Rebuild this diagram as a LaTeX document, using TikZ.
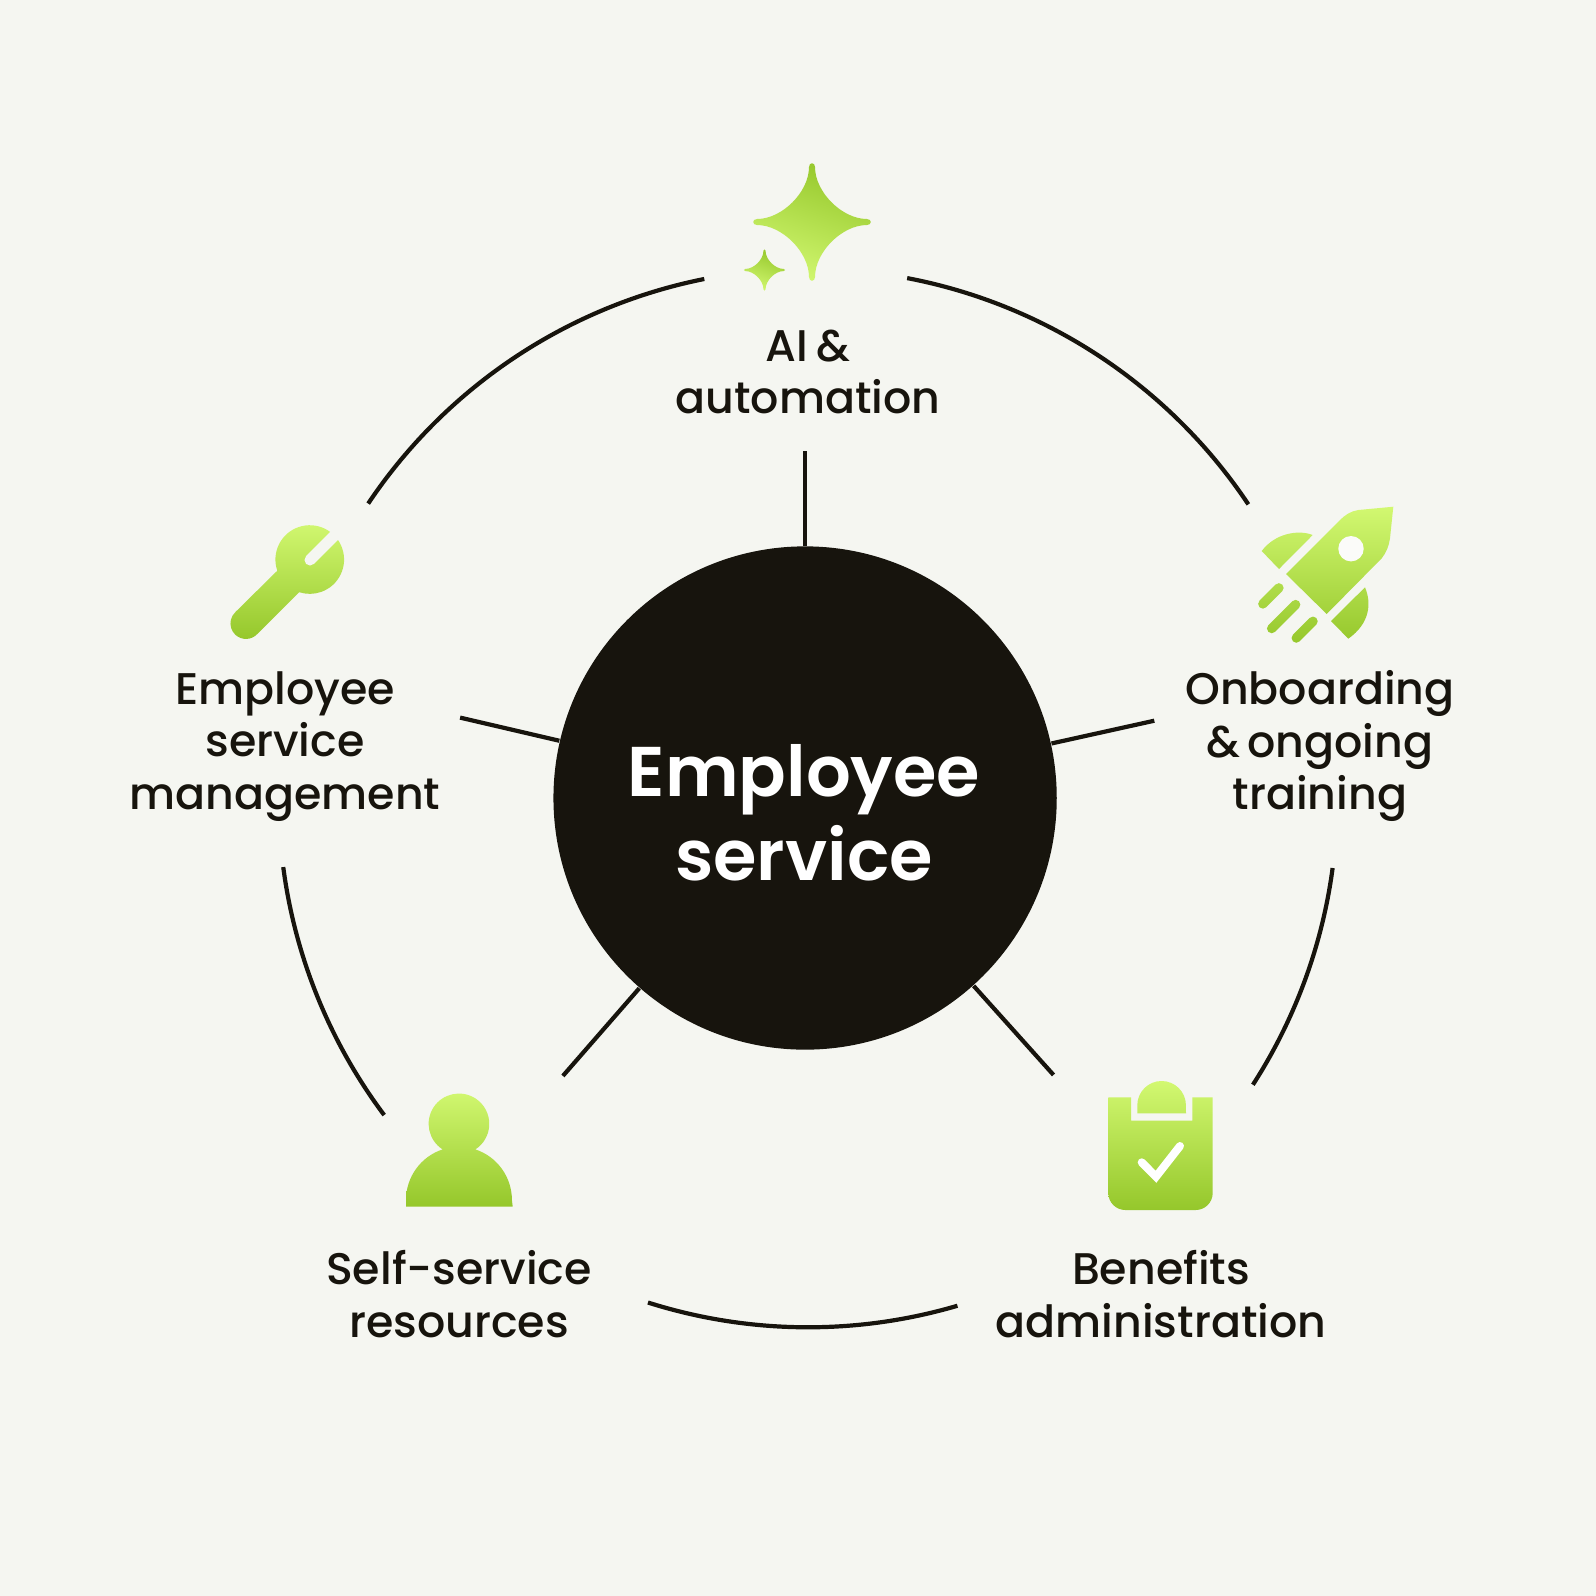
\documentclass[tikz,border=0pt]{standalone}
\usepackage{fontspec}
\setmainfont{Poppins}[UprightFont=* Medium]
\newfontfamily\hubfont{Poppins}[UprightFont=* SemiBold]
\usetikzlibrary{positioning}

\definecolor{paper}{HTML}{F5F6F1}
\definecolor{ink}{HTML}{17140D}
\definecolor{limetop}{HTML}{D2F871}
\definecolor{limebot}{HTML}{95C72B}

\tikzset{
  ringline/.style={draw=ink, line width=0.042cm},
  spoke/.style={draw=ink, line width=0.042cm},
  hubdisc/.style={circle, fill=ink, minimum size=5.03cm, inner sep=0pt},
  toplabel/.style={align=center, text=ink, font=\fontsize{12.6}{14.9}\selectfont, inner sep=0pt},
  hublabel/.style={align=center, text=white, font=\hubfont\fontsize{20}{23.8}\selectfont, inner sep=0pt},
  lime/.style={top color=limetop, bottom color=limebot},
  limeflip/.style={top color=limebot, bottom color=limetop, shading angle=-20}
}

\begin{document}
\begin{tikzpicture}[x=0.01cm, y=-0.01cm]
    % Background
    \fill[paper] (0,0) rectangle (1596,1596);
    \useasboundingbox (0,0) rectangle (1596,1596);

    % Center disc
    \node[hubdisc] (hub) at (805.1,798) {};
    \node[hublabel] (hubtext) at (804,813) {Employee\\service};

    % Outer ring pieces
    \coordinate (ring) at (808,798);
    \foreach \n/\from/\to in {tl/101.3/146.2, tr/79.2/33.7, rr/-7.6/-32.8, bb/-73.6/-107.6, ll/216.8/187.5} {
      \coordinate (arc\n) at ([shift={(\from:5.29cm)}]ring);
      \draw[ringline] (arc\n) arc[start angle=\from, end angle=\to, radius=5.29cm];
    }

    % Spokes into the disc
    \foreach \n/\x/\y in {ai/805.1/451, onb/1154.3/720.7, ben/1053.5/1074.9, self/562.9/1075.9, esm/460.1/717.6} {
      \coordinate (end\n) at (\x,\y);
      \draw[spoke] (end\n) -- (hub);
    }

    % Labels
    \foreach \n/\x/\y/\t in {ai/808/372/{AI\hspace{-0.06em} \&\\automation}, onb/1320/746/{Onboarding\\\&\hspace{-0.1em} ongoing\\training}, ben/1161/1294/{Benefits\\administration}, self/459/1294/{Self-service\\resources}, esm/285/746.5/{Employee\\service\\management}} {
      \node[toplabel] (label\n) at (\x,\y) {\t};
    }

    % Sparkles
    \foreach \cx/\cy/\s in {812/222/1, 764.5/270/0.35} {
      \begin{scope}[shift={(\cx,\cy)}, scale=\s]
        \shade[limeflip] (-3,-55) .. controls (-3,-30) and (-30,-3) .. (-55,-3)
          .. controls (-60,-3) and (-60,3) .. (-55,3)
          .. controls (-30,3) and (-3,30) .. (-3,55)
          .. controls (-3,60) and (3,60) .. (3,55)
          .. controls (3,30) and (30,3) .. (55,3)
          .. controls (60,3) and (60,-3) .. (55,-3)
          .. controls (30,-3) and (3,-30) .. (3,-55)
          .. controls (3,-60) and (-3,-60) .. (-3,-55) -- cycle;
      \end{scope}
    }

    % Rocket
    \shade[lime] (1286,574) -- (1340,520) .. controls (1345,515) and (1351,511) .. (1358.3,510)
        -- (1393.3,506.7) -- (1390,538.3) .. controls (1389,546) and (1386,553) .. (1381.7,558.3)
        -- (1326.7,614) -- cycle
      (1261.7,551) -- (1279,569) -- (1312.7,535) .. controls (1298.3,529.3) and (1275,533.3) .. (1261.7,551) -- cycle
      (1365,587.3) -- (1331,621) -- (1348.3,638.7) .. controls (1370,623.3) and (1371.7,603.3) .. (1365,587.3) -- cycle
      {[rounded corners=0.045cm] (1285.5,587.9) -- ++(-22.6,22.6) -- ++(-6.6,-6.6) -- ++(22.6,-22.6) -- cycle}
      {[rounded corners=0.045cm] (1302.2,604.6) -- ++(-30.5,30.5) -- ++(-6.6,-6.6) -- ++(30.5,-30.5) -- cycle}
      {[rounded corners=0.045cm] (1319.6,621.3) -- ++(-23.3,23.3) -- ++(-6.6,-6.6) -- ++(23.3,-23.3) -- cycle};
    \fill[white!60!paper] (1351,548.7) circle (0.127cm);

    % Wrench
    \shade[lime] (277.3,570.7) arc[start angle=199, end angle=-108, radius=0.343cm]
        -- (257.3,634) arc[start angle=-43, end angle=-227, radius=0.155cm] -- cycle;
    \draw[paper, line width=0.11cm, line cap=round] (310,560) -- (345,525);

    % Clipboard
    \shade[lime] (1108.3,1097.3) -- (1131,1097.3) -- (1131,1120.7) -- (1192.3,1120.7) -- (1192.3,1097.3) -- (1212.7,1097.3)
        -- (1212.7,1193) arc[start angle=0, end angle=-90, radius=0.17cm] -- (1125.3,1210)
        arc[start angle=270, end angle=180, radius=0.17cm] -- cycle
      (1137.3,1113.3) -- (1137.3,1105.3) arc[start angle=180, end angle=0, radius=0.243cm] -- (1186,1113.3) -- cycle;
    \draw[white, line width=0.08cm, line cap=round] (1141.7,1162.3) -- (1156,1176.7) -- (1180,1146);

    % Person
    \shade[lime] (406,1206.7) -- (406,1200) arc[start angle=180, end angle=108.3, radius=0.533cm]
        arc[start angle=237.3, end angle=-57.3, radius=0.303cm]
        arc[start angle=71.7, end angle=0, radius=0.533cm] -- (512.7,1206.7) -- cycle;
\end{tikzpicture}
\end{document}
